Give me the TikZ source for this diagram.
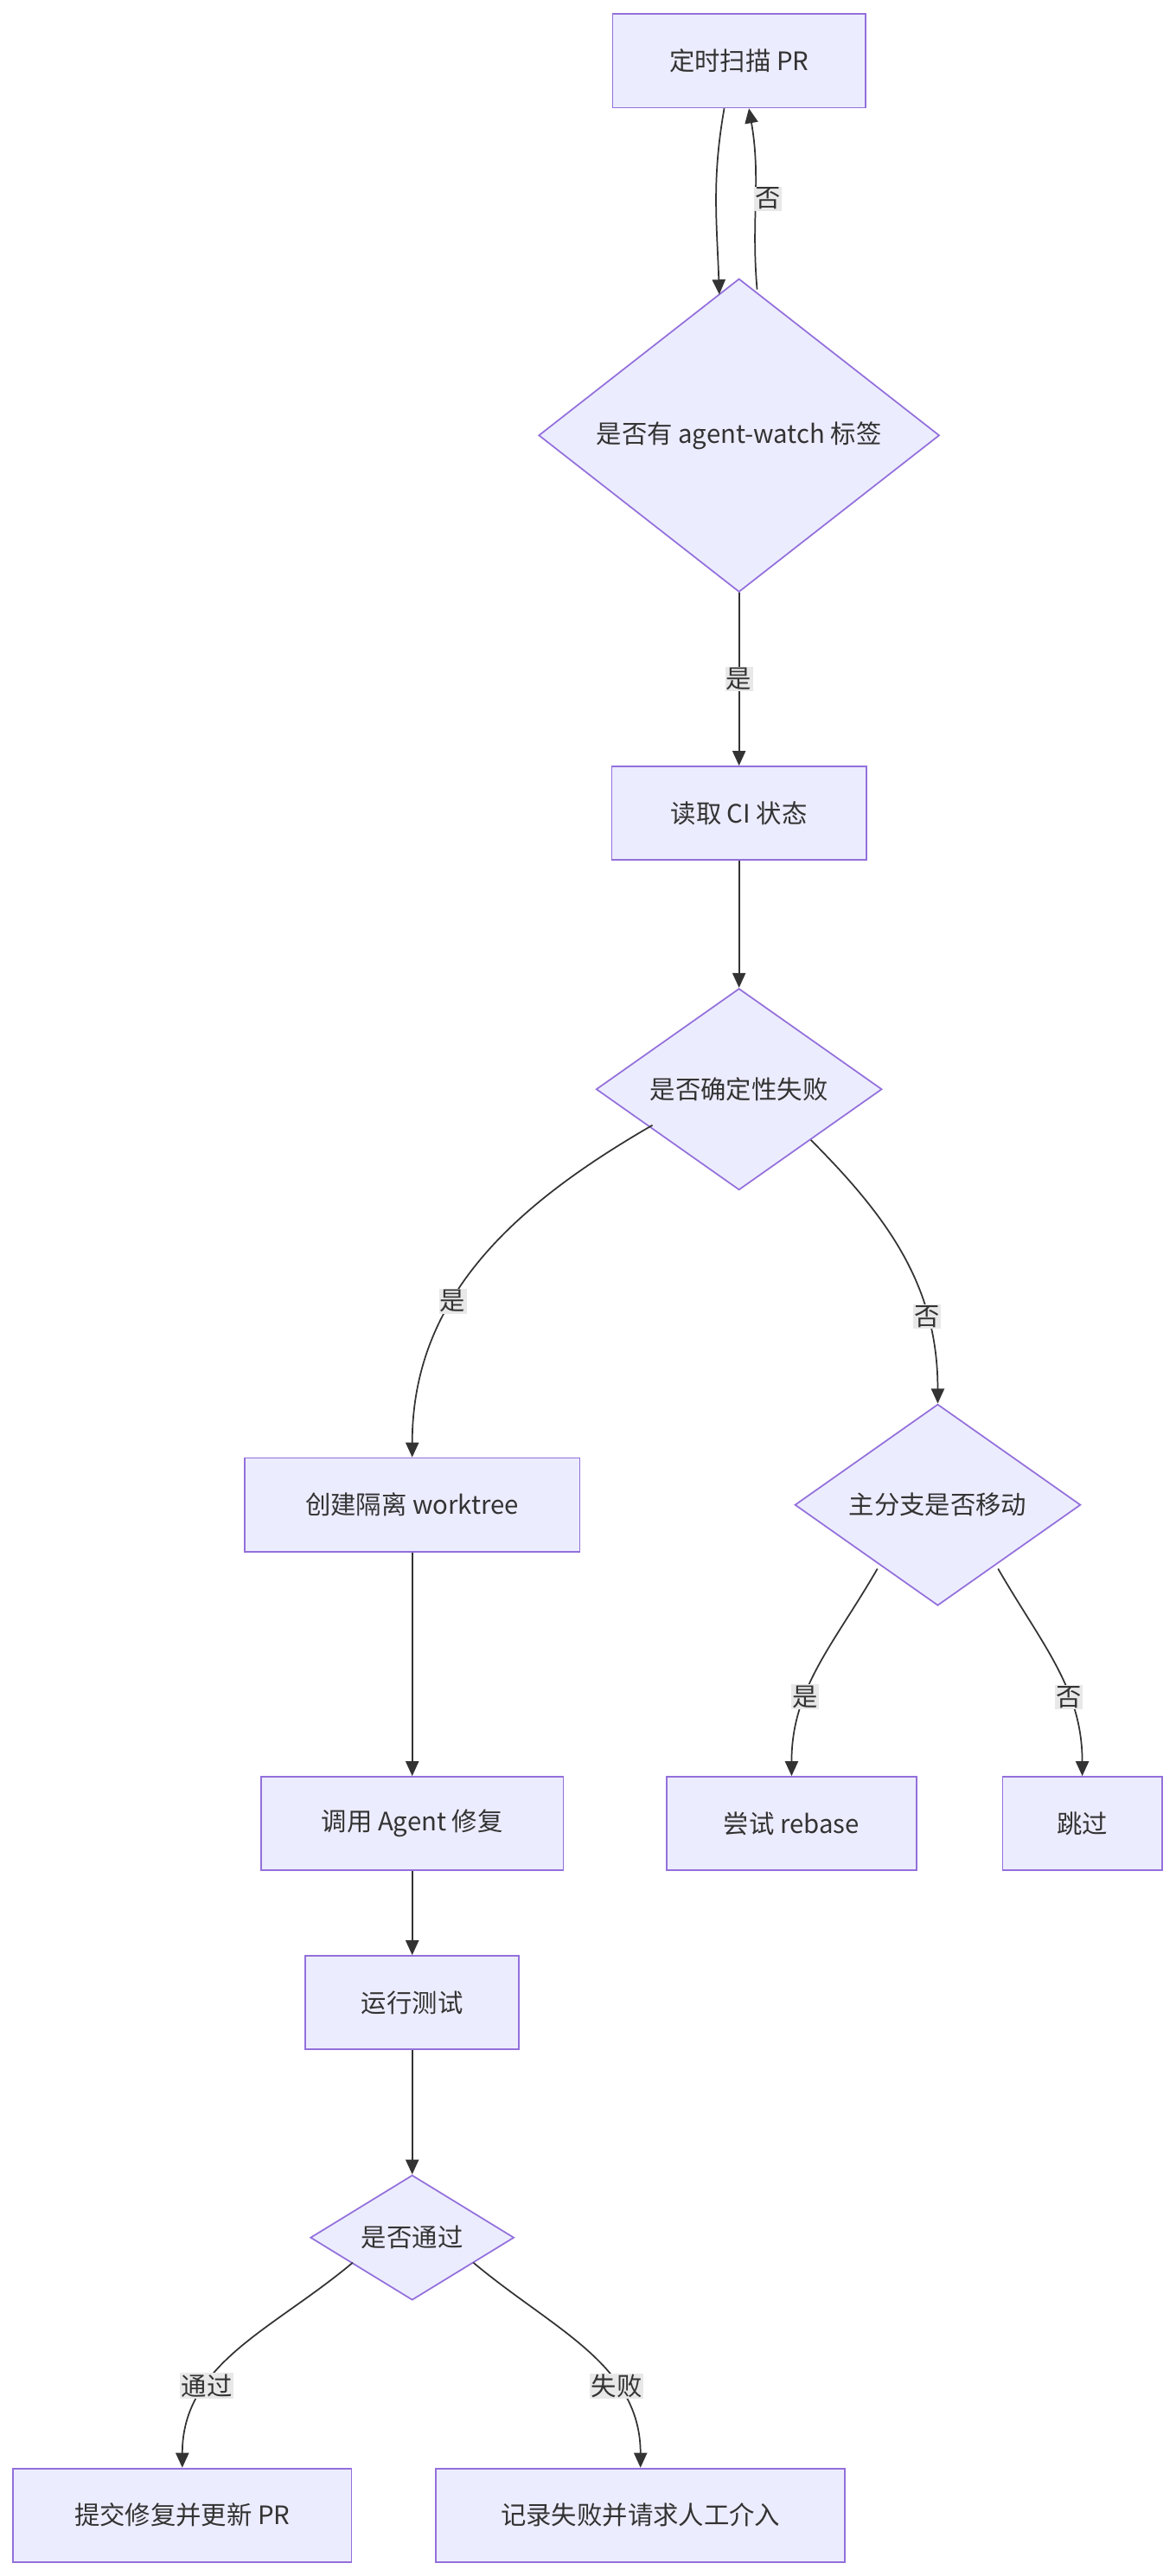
\documentclass[tikz,border=0pt]{standalone}
\usepackage{fontspec}
\setmainfont{Noto Sans CJK SC}
\definecolor{boxfill}{HTML}{ECECFF}
\definecolor{boxline}{HTML}{9370DB}
\definecolor{edge}{HTML}{333333}
\definecolor{lblbg}{HTML}{E8E8E8}
\usetikzlibrary{
    arrows.meta,
    shapes.geometric,
}

\begin{document}
\begin{tikzpicture}[%
    x=0.05cm, y=-0.05cm,
    every node/.style={font=\fontsize{22pt}{26pt}\selectfont, text=edge},
    task/.style={
        rectangle,
        draw=boxline,
        fill=boxfill,
        line width=1.3pt,
        minimum height=2.85cm,
        inner sep=0
    },
    check/.style={
        diamond,
        aspect=1,
        draw=boxline,
        fill=boxfill,
        line width=1.3pt,
        inner sep=0
    },
    flow/.style={
        draw=edge,
        line width=1.3pt,
        -{Triangle[length=0.45cm,width=0.4cm]}
    },
    tag/.style={
        fill=lblbg,
        inner sep=1pt
    }
]

\useasboundingbox (0,0) rectangle (716,1568);

% main column
\node [task, minimum width=7.7cm] (scan) at (450,37) {定时扫描 PR};
\node [check, minimum width=12.2cm] (label) at (450,265) {是否有 agent-watch 标签};
\node [task, minimum width=7.75cm] (ci) at (450,495) {读取 CI 状态};
\node [check, minimum width=8.7cm] (fail) at (450,663) {是否确定性失败};

% left branch
\node [task, minimum width=10.2cm] (tree) at (251,916) {创建隔离 worktree};
\node [task, minimum width=9.2cm] (agent) at (251,1110) {调用 Agent 修复};
\node [task, minimum width=6.5cm] (test) at (251,1219) {运行测试};
\node [check, minimum width=6.2cm] (pass) at (251,1362) {是否通过};
\node [task, minimum width=10.3cm] (commit) at (111,1531) {提交修复并更新 PR};
\node [task, minimum width=12.45cm] (report) at (390,1531) {记录失败并请求人工介入};

% right branch
\node [check, minimum width=8.7cm] (moved) at (571,916) {主分支是否移动};
\node [task, minimum width=7.6cm] (rebase) at (482,1110) {尝试 rebase};
\node [task, minimum width=4.85cm] (skip) at (659,1110) {跳过};

% edges
\draw [flow] ([xshift=-0.45cm]scan.south) to[out=-100,in=92] ([xshift=-0.6cm,yshift=-0.5cm]label.north);
\draw [flow] ([xshift=0.55cm,yshift=-0.35cm]label.north) to[out=95,in=-80]
    node [tag, pos=0.5, right=-2pt] {否} ([xshift=0.3cm]scan.south);
\draw [flow] (label) -- node [tag] {是} (ci);
\draw [flow] (ci) -- (fail);
\draw [flow] ([shift={(-0.45cm,0.45cm)}]fail.south west) to[out=-150,in=90]
    node [tag, pos=0.62] {是} (tree.north);
\draw [flow] (fail.south east) to[out=-45,in=90]
    node [tag, pos=0.72] {否} (moved.north);
\draw [flow] (tree) -- (agent);
\draw [flow] (agent) -- (test);
\draw [flow] (test) -- (pass);
\draw [flow] ([shift={(0.35cm,-0.4cm)}]moved.south west) to[out=-120,in=90]
    node [tag, pos=0.65] {是} (rebase.north);
\draw [flow] ([shift={(-0.35cm,-0.4cm)}]moved.south east) to[out=-60,in=90]
    node [tag, pos=0.65] {否} (skip.north);
\draw [flow] ([shift={(-0.25cm,0.2cm)}]pass.south west) to[out=-140,in=90]
    node [tag, pos=0.68] {通过} (commit.north);
\draw [flow] ([shift={(0.3cm,0.2cm)}]pass.south east) to[out=-40,in=90]
    node [tag, pos=0.68] {失败} (report.north);

\end{tikzpicture}
\end{document}
